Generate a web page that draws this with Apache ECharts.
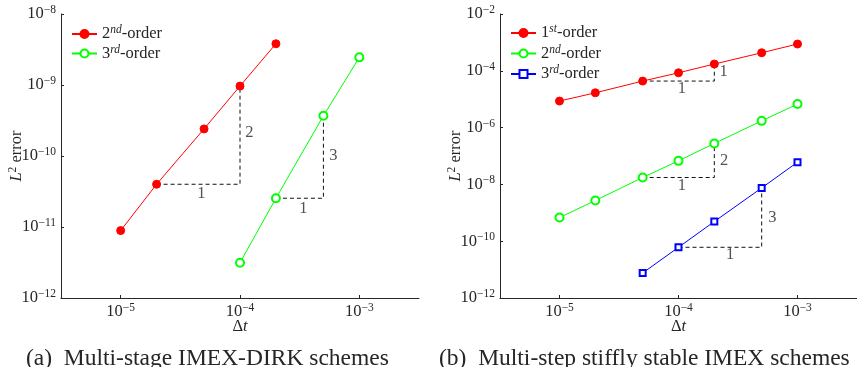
<!DOCTYPE html>
<html>
<head>
<meta charset="utf-8">
<script src="https://cdn.jsdelivr.net/npm/echarts@6/dist/echarts.min.js"></script>
<style>
  html, body { margin: 0; padding: 0; background: #fff; }
  #chart { width: 857px; height: 367px; }
</style>
</head>
<body>
<div id="chart"></div>
<script>
// (a) multi-stage IMEX-DIRK
const dtA2 = [1e-5, 2e-5, 5e-5, 1e-4, 2e-4];
const errA2 = [8.9e-12, 4.0e-11, 2.41e-10, 9.66e-10, 3.81e-9];
const dtA3 = [1e-4, 2e-4, 5e-4, 1e-3];
const errA3 = [3.14e-12, 2.54e-11, 3.68e-10, 2.45e-9];

// (b) multi-step stiffly stable
const dtB1 = [1e-5, 2e-5, 5e-5, 1e-4, 2e-4, 5e-4, 1e-3];
const errB1 = [8.6e-6, 1.68e-5, 4.35e-5, 8.5e-5, 1.73e-4, 4.32e-4, 8.77e-4];
const dtB2 = [1e-5, 2e-5, 5e-5, 1e-4, 2e-4, 5e-4, 1e-3];
const errB2 = [6.8e-10, 2.71e-9, 1.75e-8, 6.75e-8, 2.77e-7, 1.73e-6, 6.73e-6];
const dtB3 = [5e-5, 1e-4, 2e-4, 5e-4, 1e-3];
const errB3 = [7.6e-12, 6.1e-11, 4.93e-10, 7.5e-9, 6.07e-8];

// slope triangles (corner points)
const triA2 = [[2e-5, 4.0e-11], [1e-4, 4.0e-11], [1e-4, 9.66e-10]];
const triA3 = [[2e-4, 2.54e-11], [5e-4, 2.54e-11], [5e-4, 3.68e-10]];
const triB1 = [[5e-5, 4.35e-5], [2e-4, 4.35e-5], [2e-4, 1.73e-4]];
const triB2 = [[5e-5, 1.75e-8], [2e-4, 1.75e-8], [2e-4, 2.77e-7]];
const triB3 = [[1e-4, 6.1e-11], [5e-4, 6.1e-11], [5e-4, 7.5e-9]];

// slope labels [dt, err, text]
const slopeTextA = [[4.75e-5, 2.99e-11, '1'], [1.2e-4, 2.1e-10, '2'], [3.4e-4, 1.84e-11, '1'], [6.05e-4, 1.0e-10, '3']];
const slopeTextB = [[1.07e-4, 2.4e-5, '1'], [2.39e-4, 9.25e-5, '1'], [1.07e-4, 8.87e-9, '1'],
                    [2.42e-4, 6.75e-8, '2'], [2.72e-4, 3.47e-11, '1'], [6.14e-4, 6.83e-10, '3']];

const legendNames = {
  a2: '{n|2}{s|nd}{n|-order}',
  a3: '{n|3}{s|rd}{n|-order}',
  b1: '{n|1}{s|st}{n|-order}',
  b2: '{n|2}{s|nd}{n|-order}',
  b3: '{n|3}{s|rd}{n|-order}'
};

const serif = 'Liberation Serif';
const ink = '#262626';

const richText = {
  n: { fontFamily: serif, fontSize: 16.5, color: ink, lineHeight: 20 },
  b: { fontFamily: serif, fontSize: 16.5, color: ink, lineHeight: 20 },
  i: { fontFamily: serif, fontSize: 16.5, color: ink, lineHeight: 20, fontStyle: 'italic' },
  s: { fontFamily: serif, fontSize: 11.5, color: ink, lineHeight: 11, verticalAlign: 'top', fontStyle: 'italic' },
  e: { fontFamily: serif, fontSize: 11.5, color: ink, lineHeight: 11, verticalAlign: 'top' }
};

function powLabel(v) {
  const p = Math.log10(v);
  const e = Math.round(p);
  if (Math.abs(p - e) > 0.01) return '';
  return '{b|10}{e|' + (e < 0 ? '\u2212' + (-e) : e) + '}';
}

function xAxis(idx) {
  return {
    type: 'log', gridIndex: idx, min: Math.pow(10, -5.5), max: Math.pow(10, -2.5),
    name: '{n|\u0394}{i|t}', nameLocation: 'middle', nameGap: 19, nameMoveOverlap: false,
    nameTextStyle: { rich: richText },
    axisLine: { lineStyle: { color: ink, width: 1 } },
    axisTick: { inside: true, length: 3, lineStyle: { color: ink } },
    axisLabel: { formatter: powLabel, rich: richText, margin: 4, showMinLabel: false, showMaxLabel: false },
    splitLine: { show: false }, minorTick: { show: false }
  };
}

function yAxis(idx, min, max, interval) {
  return {
    type: 'log', gridIndex: idx, min: min, max: max, interval: interval,
    name: '{i|L}{e|2}{n| error}', nameLocation: 'middle', nameGap: 34, nameMoveOverlap: false,
    nameTextStyle: { rich: richText },
    axisLine: { lineStyle: { color: ink, width: 1 } },
    axisTick: { inside: true, length: 3, lineStyle: { color: ink } },
    axisLabel: { formatter: powLabel, rich: richText, margin: 5 },
    splitLine: { show: false }, minorTick: { show: false }
  };
}

function zip(xs, ys) {
  return xs.map((x, i) => [x, ys[i]]);
}

function curve(name, idx, xs, ys, color, symbol, size) {
  return {
    name: name, type: 'line', xAxisIndex: idx, yAxisIndex: idx,
    data: zip(xs, ys), symbol: symbol, symbolSize: size,
    showSymbol: true, animation: false,
    lineStyle: { color: color, width: 1 },
    itemStyle: { color: color, borderColor: color, borderWidth: 1 },
    z: 3
  };
}

function triangle(idx, pts) {
  return {
    type: 'line', xAxisIndex: idx, yAxisIndex: idx, data: pts,
    symbol: 'none', animation: false, silent: true,
    lineStyle: { color: '#111', width: 1, type: [4, 3] }, z: 2
  };
}

function slopeLabels(idx, rows) {
  return {
    type: 'scatter', xAxisIndex: idx, yAxisIndex: idx, symbolSize: 0,
    animation: false, silent: true,
    data: rows.map(r => ({ value: [r[0], r[1]], label: { formatter: r[2] } })),
    label: { show: true, position: 'inside', fontFamily: serif, fontSize: 16.5, color: ink }
  };
}

const legendBase = {
  orient: 'vertical', itemWidth: 25, itemHeight: 10,
  formatter: name => legendNames[name],
  textStyle: { rich: richText },
  selectedMode: false
};

const captionStyle = { fontFamily: serif, fontSize: 23.5, fontWeight: 'normal', color: ink };

const option = {
  backgroundColor: '#fff',
  animation: false,
  title: [
    { text: '(a)  Multi-stage IMEX-DIRK schemes', left: 21, top: 342, textStyle: captionStyle },
    { text: '(b)  Multi-step stiffly stable IMEX schemes', left: 434, top: 342, textStyle: captionStyle }
  ],
  legend: [
    Object.assign({}, legendBase, { data: ['a2', 'a3'], left: 66, top: 19, itemGap: 1 }),
    Object.assign({}, legendBase, { data: ['b1', 'b2', 'b3'], left: 505, top: 18, itemGap: 2 })
  ],
  grid: [
    { left: 61, top: 14, width: 358, height: 284 },
    { left: 500, top: 14, width: 359, height: 284 }
  ],
  xAxis: [xAxis(0), xAxis(1)],
  yAxis: [yAxis(0, 1e-12, 1e-8, 1), yAxis(1, 1e-12, 1e-2, 2)],
  series: [
    curve('a2', 0, dtA2, errA2, '#ff0000', 'circle', 8),
    curve('a3', 0, dtA3, errA3, '#00ff00', 'emptyCircle', 8),
    triangle(0, triA2),
    triangle(0, triA3),
    slopeLabels(0, slopeTextA),
    curve('b1', 1, dtB1, errB1, '#ff0000', 'circle', 8),
    curve('b2', 1, dtB2, errB2, '#00ff00', 'emptyCircle', 8),
    curve('b3', 1, dtB3, errB3, '#0000ff', 'emptyRect', 6),
    triangle(1, triB1),
    triangle(1, triB2),
    triangle(1, triB3),
    slopeLabels(1, slopeTextB)
  ]
};

const chart = echarts.init(document.getElementById('chart'), null, { renderer: 'canvas' });
chart.setOption(option);
</script>
</body>
</html>
